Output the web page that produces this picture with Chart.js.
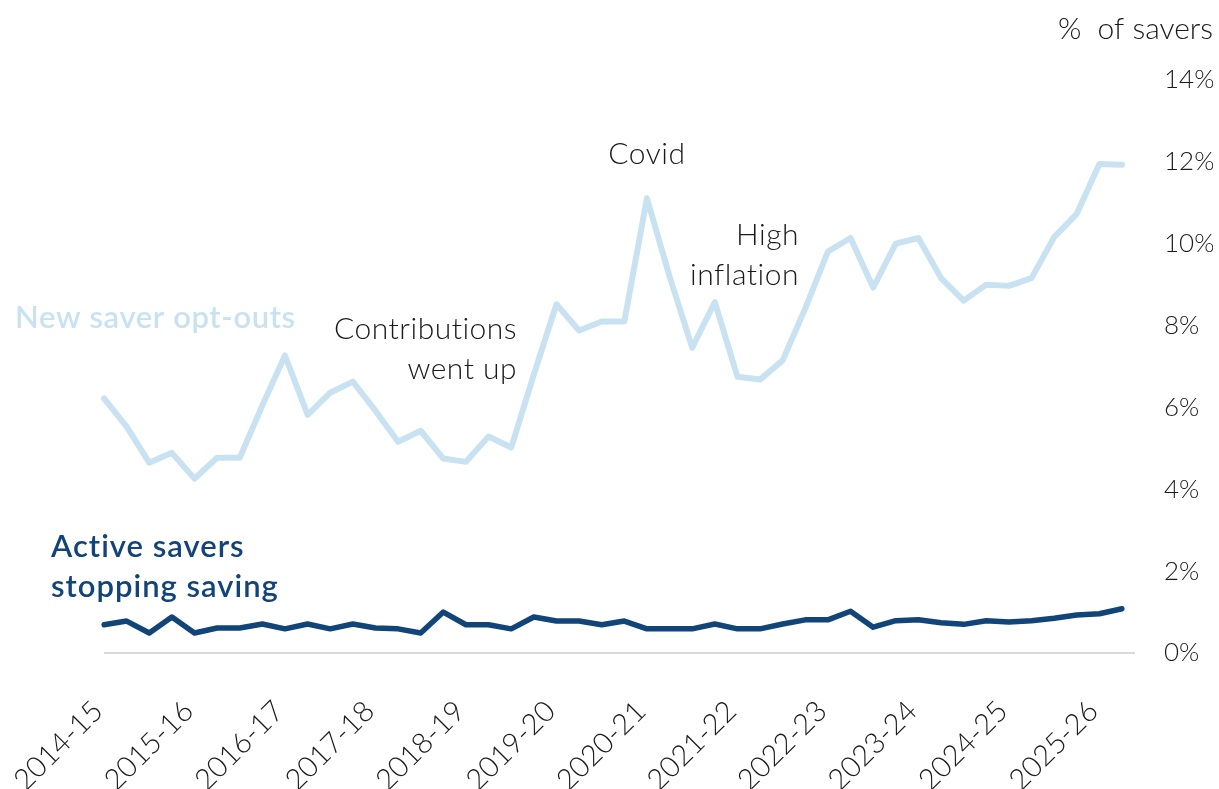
<!DOCTYPE html>
<html>
<head>
<meta charset="utf-8">
<script src="https://cdn.jsdelivr.net/npm/chart.js@4.4.1/dist/chart.umd.min.js"></script>
<style>
  html, body { margin: 0; padding: 0; background: #ffffff; }
  #wrap { width: 1219px; height: 789px; }
</style>
</head>
<body>
<div id="wrap"><canvas id="c" width="1219" height="789"></canvas></div>
<script>
// ---- Data ----
const fiscalYears = ['2014-15','2015-16','2016-17','2017-18','2018-19','2019-20',
                     '2020-21','2021-22','2022-23','2023-24','2024-25','2025-26'];
const quarterNames = ['Q1','Q2','Q3','Q4'];
// 46 quarters: 2014-15 Q1 to 2025-26 Q2
const categories = [];
fiscalYears.forEach(fy => quarterNames.forEach(q => categories.push(fy + ' ' + q)));
categories.length = 46;

const newSaverOptOuts = [
  6.22, 5.53, 4.65, 4.89, 4.26, 4.77, 4.77, 6.05, 7.27, 5.82,
  6.36, 6.63, 5.92, 5.16, 5.43, 4.75, 4.67, 5.29, 5.02, 6.80,
  8.52, 7.88, 8.10, 8.10, 11.11, 9.20, 7.46, 8.57, 6.75, 6.68,
  7.15, 8.42, 9.81, 10.14, 8.93, 10.00, 10.14, 9.16, 8.61, 9.00,
  8.97, 9.16, 10.16, 10.73, 11.95, 11.93
];
const activeStopping = [
  0.69, 0.78, 0.49, 0.88, 0.49, 0.61, 0.61, 0.71, 0.59, 0.71,
  0.59, 0.71, 0.61, 0.59, 0.49, 1.00, 0.69, 0.69, 0.59, 0.88,
  0.78, 0.78, 0.69, 0.78, 0.59, 0.59, 0.59, 0.71, 0.59, 0.59,
  0.71, 0.81, 0.81, 1.02, 0.63, 0.79, 0.81, 0.74, 0.70, 0.79,
  0.76, 0.79, 0.85, 0.93, 0.96, 1.08
];
const yTicks = [0, 2, 4, 6, 8, 10, 12, 14];

// ---- Styles ----
const FONT = 'Lato, "Open Sans", sans-serif';
const TEXT = '#1a1a1a';
const LIGHT = '#c9e2f2';
const DARK = '#114479';

const annotations = [
  { lines: ['Covid'], idx: 24, val: 11.94, align: 'center', color: TEXT, weight: 300, size: 30, spacing: 0.5 },
  { lines: ['High', 'inflation'], idx: 30.72, val: 9.98, align: 'right', color: TEXT, weight: 300, size: 30, spacing: 0.5 },
  { lines: ['Contributions', 'went up'], idx: 18.26, val: 7.66, align: 'right', color: TEXT, weight: 300, size: 30, spacing: 0.5 },
  { lines: ['New saver opt-outs'], idx: -3.93, val: 7.95, align: 'left', color: LIGHT, weight: 600, size: 31, spacing: 0.6 },
  { lines: ['Active savers', 'stopping saving'], idx: -2.34, val: 2.35, align: 'left', color: DARK, weight: 600, size: 31, spacing: 1 }
];

const baselinePlugin = {
  id: 'baseline',
  beforeDatasetsDraw(chart) {
    const { ctx, chartArea, scales: { y } } = chart;
    const py = y.getPixelForValue(0);
    ctx.save();
    ctx.strokeStyle = '#d9d9d9';
    ctx.lineWidth = 2;
    ctx.beginPath();
    ctx.moveTo(chartArea.left, py);
    ctx.lineTo(chartArea.right + 13, py);
    ctx.stroke();
    ctx.restore();
  }
};

const annotationPlugin = {
  id: 'annot',
  afterDatasetsDraw(chart) {
    const { ctx, scales: { x, y } } = chart;
    ctx.save();
    annotations.forEach(a => {
      ctx.font = a.weight + ' ' + a.size + 'px ' + FONT;
      if ('letterSpacing' in ctx) ctx.letterSpacing = a.spacing + 'px';
      ctx.fillStyle = a.color;
      ctx.textAlign = a.align;
      ctx.textBaseline = 'alphabetic';
      const px = x.getPixelForValue(a.idx);
      const py = y.getPixelForValue(a.val);
      a.lines.forEach((t, i) => ctx.fillText(t, px, py + i * 40));
    });
    ctx.restore();
  }
};

new Chart(document.getElementById('c'), {
  type: 'line',
  data: {
    labels: categories,
    datasets: [
      { label: 'Active savers stopping saving', data: activeStopping, borderColor: DARK,
        borderWidth: 5.5, pointRadius: 0, tension: 0, borderCapStyle: 'round', borderJoinStyle: 'round' },
      { label: 'New saver opt-outs', data: newSaverOptOuts, borderColor: LIGHT,
        borderWidth: 6, pointRadius: 0, tension: 0, borderCapStyle: 'round', borderJoinStyle: 'round' }
    ]
  },
  options: {
    responsive: false,
    animation: false,
    layout: { padding: { left: 104, right: 6, top: 0, bottom: 0 } },
    plugins: {
      legend: { display: false },
      tooltip: { enabled: false },
      title: {
        display: true, text: '%  of savers', align: 'end', color: TEXT,
        font: { family: FONT, size: 30, weight: 300 },
        padding: { top: 11, bottom: 33 }
      }
    },
    scales: {
      x: {
        type: 'category',
        grid: { display: false, drawTicks: false },
        border: { display: false },
        ticks: {
          autoSkip: false, minRotation: 45, maxRotation: 45, padding: 41, labelOffset: -6,
          color: TEXT, font: { family: FONT, size: 29, weight: 300 },
          callback: (v, i) => (i % 4 === 0 ? fiscalYears[i / 4] : '')
        },
        afterFit(axis) { axis.height = 136; axis.paddingLeft = 0; axis.paddingRight = 0; }
      },
      y: {
        position: 'right', min: 0, max: 14,
        grid: { display: false, drawTicks: false },
        border: { display: false },
        afterBuildTicks(axis) { axis.ticks = yTicks.map(v => ({ value: v })); },
        ticks: {
          padding: 42, color: TEXT, font: { family: FONT, size: 26, weight: 300 },
          callback: v => v + '%'
        },
        afterFit(axis) { axis.width = 91; }
      }
    }
  },
  plugins: [baselinePlugin, annotationPlugin]
});
</script>
</body>
</html>
